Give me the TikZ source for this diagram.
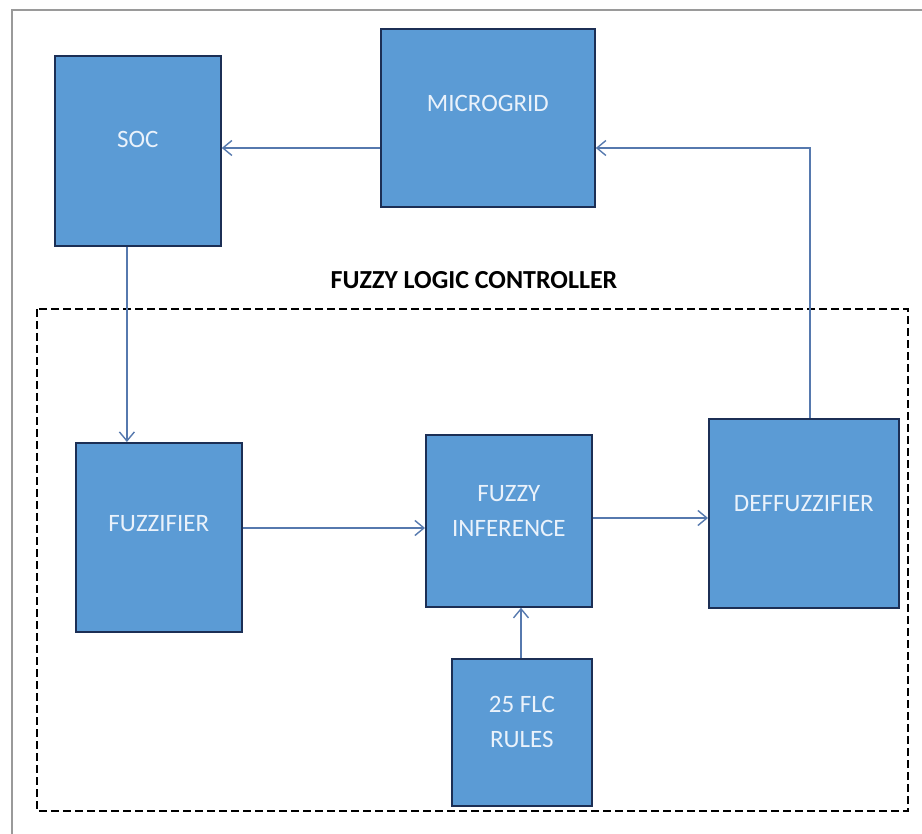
\documentclass[tikz,border=0pt]{standalone}
\usepackage{fontspec}
\setmainfont{Carlito}
\usetikzlibrary{positioning,arrows.meta,calc}
\definecolor{boxblue}{HTML}{5B9BD5}
\definecolor{boxedge}{HTML}{1C2F55}
\definecolor{arrblue}{HTML}{5679AE}
\definecolor{txtblue}{HTML}{EAF2FB}
\definecolor{framegray}{HTML}{9A9A9A}

\begin{document}
\begin{tikzpicture}[
  x=1pt, y=-1pt,
  blk/.style={draw=boxedge, line width=1.8pt, fill=boxblue, anchor=north west,
              minimum width=#1, inner sep=0pt},
  blktxt/.style={text=txtblue, font=\fontsize{25}{35}\selectfont, align=center},
  arr/.style={-{Straight Barb[length=9pt,width=15pt]}, draw=arrblue, line width=1.4pt},
  flcbox/.style={draw=black, line width=2.6pt, dash pattern=on 8pt off 4pt}]

\useasboundingbox (0,0) rectangle (922,834);

%% outer frame (only top and left edges show)
\draw[framegray, line width=1.2pt] (12,834) -- (12,10) -- (922,10);

%% blocks, placed at their top-left corners
\node[blk=166pt, minimum height=190pt] (soc)   at (54,55)   {};
\node[blk=214pt, minimum height=178pt] (micro) at (380,28)  {};
\node[blk=166pt, minimum height=189pt] (fuzz)  at (75,442)  {};
\node[blk=166pt, minimum height=172pt] (infer) at (425,434) {};
\node[blk=190pt, minimum height=189pt] (deff)  at (708,418) {};
\node[blk=140pt, minimum height=147pt] (rules) at (451,658) {};

%% block texts, set a little above the centre
\node[blktxt] (soctxt)   at ([yshift=11pt]soc.center)   {SOC};
\node[blktxt] (microtxt) at ([yshift=14pt]micro.center) {MICROGRID};
\node[blktxt] (fuzztxt)  at ([yshift=14pt]fuzz.center)  {FUZZIFIER};
\node[blktxt] (infertxt) at ([yshift=10pt]infer.center) {FUZZY\\INFERENCE};
\node[blktxt] (defftxt)  at ([yshift=10pt]deff.center)  {DEFFUZZIFIER};
\node[blktxt] (rulestxt) at ([yshift=10pt]rules.center) {25 FLC\\RULES};

%% fuzzy logic controller frame
\draw[flcbox] (37,309) rectangle (908,811);
\node[font=\bfseries\fontsize{26}{30}\selectfont] (flc) at (474,280) {FUZZY LOGIC CONTROLLER};

%% connectors
\coordinate (socout) at ([xshift=-11pt]soc.south);
\coordinate (deffup) at ([xshift=6pt]deff.north);
\draw[arr] (micro.west |- 0,148) -- (soc.east |- 0,148);
\draw[arr] (socout) -- (socout |- fuzz.north);
\draw[arr] (fuzz.east |- 0,528) -- (infer.west |- 0,528);
\draw[arr] (infer.east |- 0,518) -- (deff.west |- 0,518);
\draw[arr] (rules.north -| 521,0) -- (infer.south -| 521,0);
\draw[arr] (deffup) |- (micro.east |- 0,148);
\end{tikzpicture}
\end{document}
